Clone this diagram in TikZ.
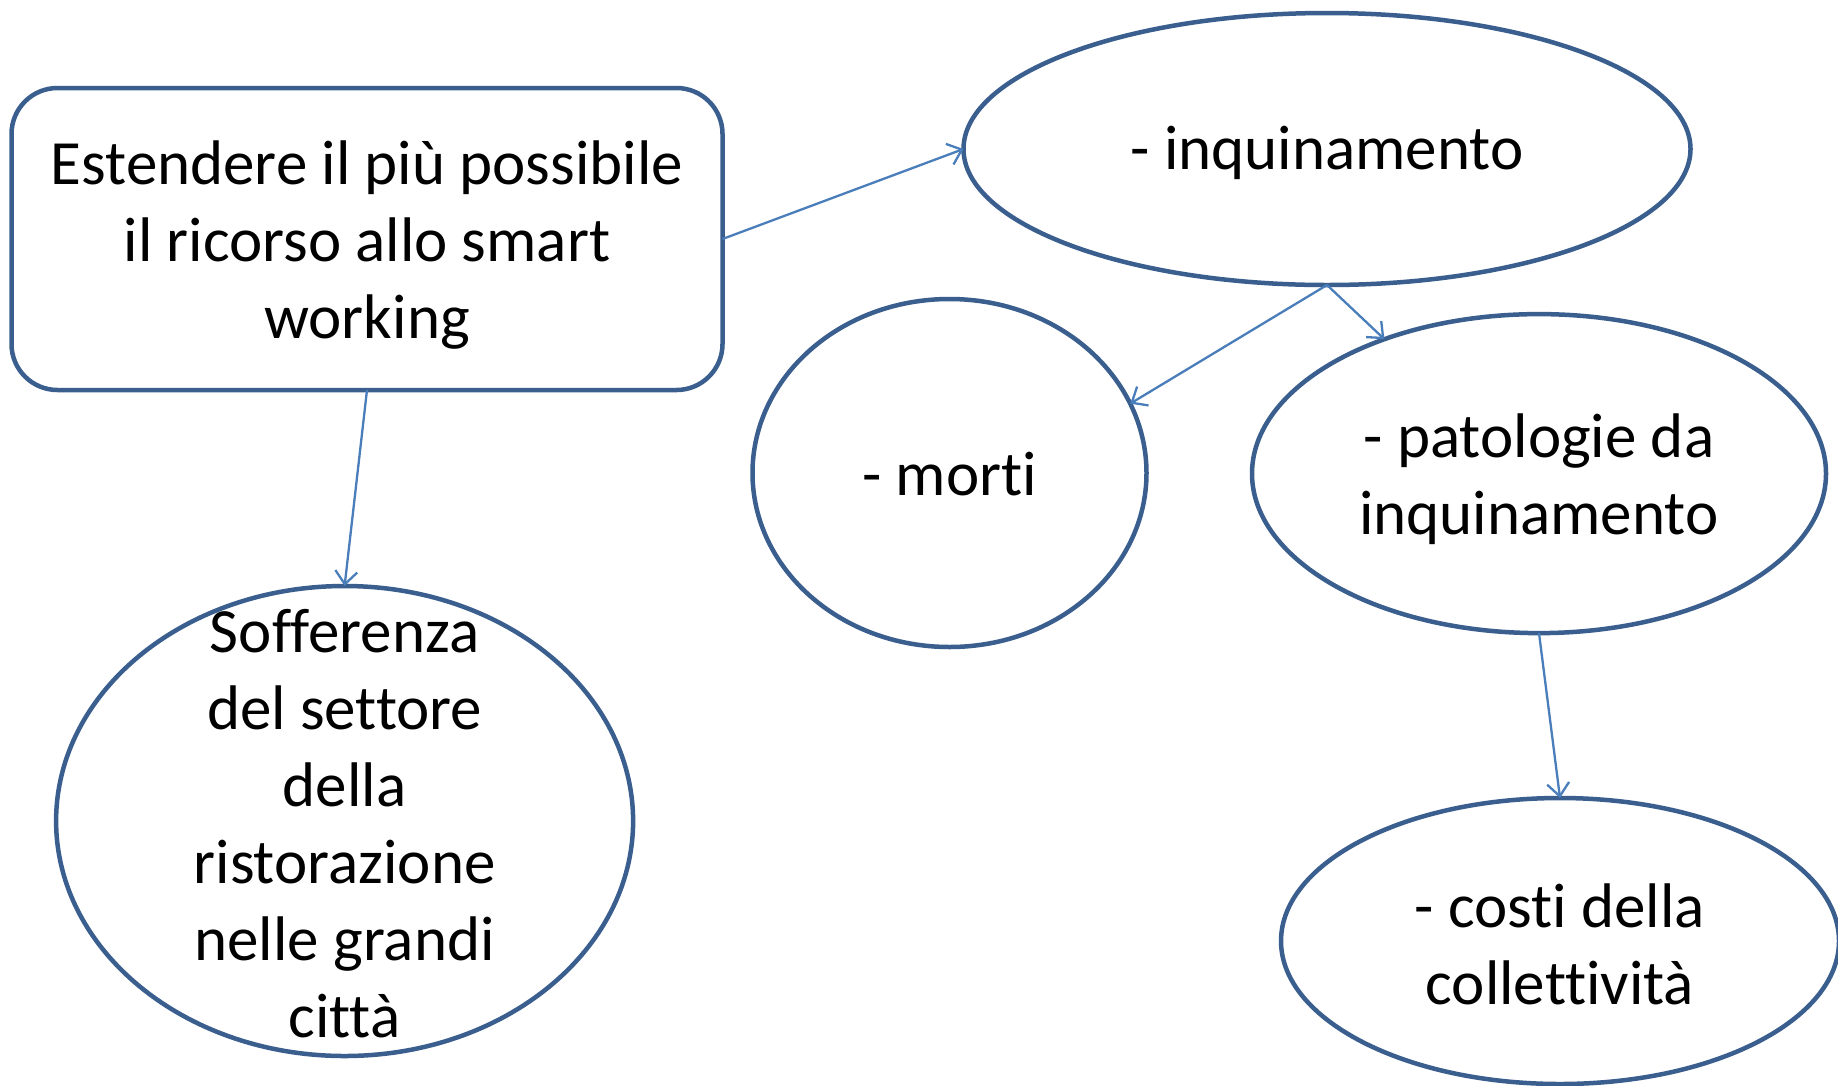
\documentclass[tikz,border=0pt]{standalone}
\usepackage{fontspec}
\setmainfont{Carlito}[RawFeature={-liga}]
\usetikzlibrary{shapes.geometric,arrows.meta}
\definecolor{edgeblue}{HTML}{3A5F8E}
\definecolor{linkblue}{HTML}{4A7EBB}
\begin{document}
\begin{tikzpicture}[x=1pt,y=-1pt,
  shapeline/.style={draw=edgeblue,line width=4.5pt,outer sep=0pt,inner sep=0pt},
  oval/.style={shapeline,ellipse},
  box/.style={shapeline,rectangle,rounded corners=46pt},
  lbl/.style={font=\fontsize{63}{77}\selectfont,align=center,inner sep=0pt},
  link/.style={draw=linkblue,line width=2.3pt,-{Straight Barb[length=13pt,width=22pt,line width=2.3pt]}}]
\useasboundingbox[fill=white] (0,0) rectangle (1838,1085);
% shapes
\node[box,minimum width=711pt,minimum height=302pt] (src) at (367,239) {};
\node[oval,minimum width=727pt,minimum height=272pt] (inq) at (1327,149) {};
\node[oval,minimum width=394pt,minimum height=348pt] (mor) at (949.5,473) {};
\node[oval,minimum width=574pt,minimum height=319pt] (pat) at (1539,473.6) {};
\node[oval,minimum width=558pt,minimum height=286pt] (cos) at (1560,941) {};
\node[oval,minimum width=577pt,minimum height=470pt] (sof) at (344.6,821) {};
% texts
\node[lbl] (srct) at ([yshift=-6pt]src.center) {Estendere il più possibile\\il ricorso allo smart\\working};
\node[lbl] (inqt) at ([yshift=-4pt]inq.center) {- inquinamento};
\node[lbl] (mort) at ([yshift=-1pt]mor.center) {- morti};
\node[lbl] (patt) at ([yshift=-6pt]pat.center) {- patologie da\\inquinamento};
\node[lbl] (cost) at ([yshift=-3pt]cos.center) {- costi della\\collettività};
\node[lbl] (soft) at ([yshift=-3pt]sof.center) {Sofferenza\\del settore\\della\\ristorazione\\nelle grandi\\città};
% connectors
\draw[link] (src.east) -- (inq.west);
\draw[link] (inq.south) -- (mor.21);
\draw[link] (inq.south) -- (pat.139);
\draw[link] (src.south) -- (sof.north);
\draw[link] (pat.south) -- (cos.north);
\end{tikzpicture}
\end{document}
